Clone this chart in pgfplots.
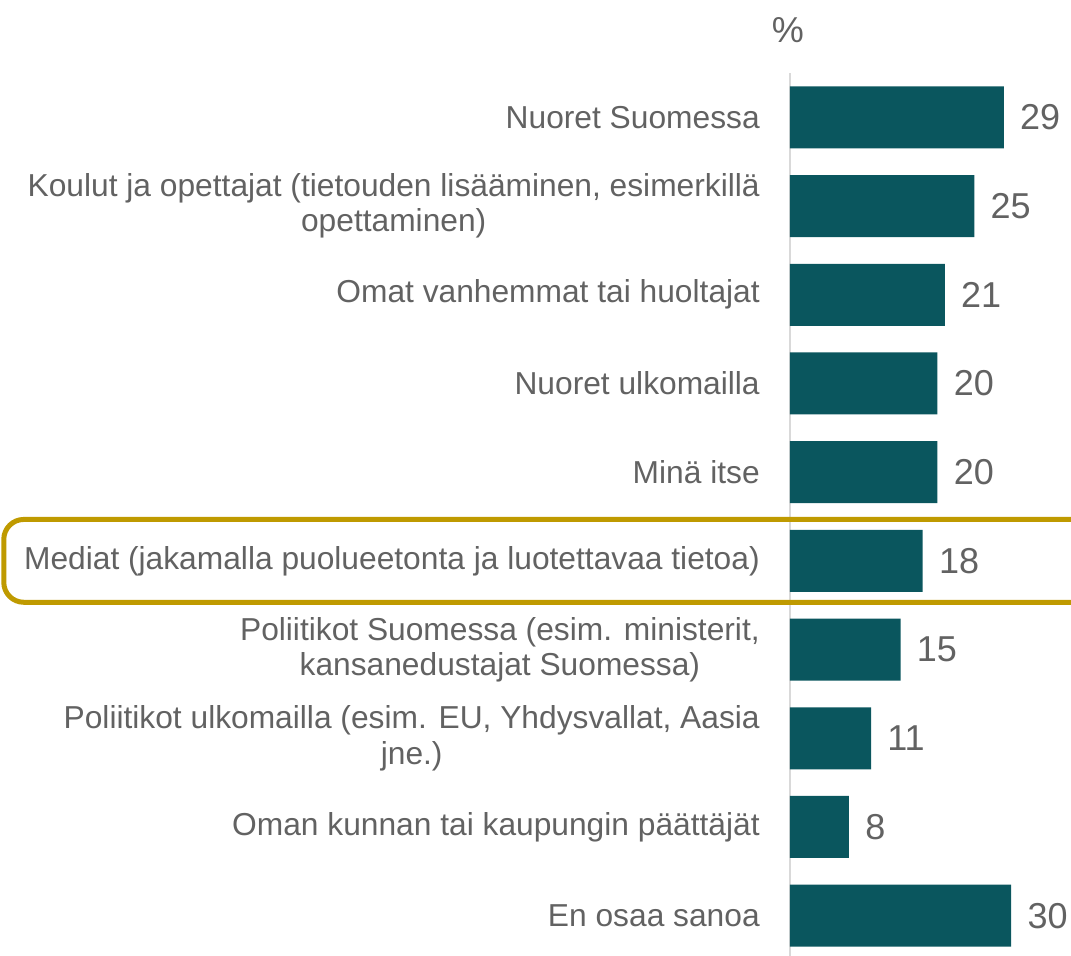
\documentclass[border=0pt]{standalone}
\usepackage{pgfplots}
\pgfplotsset{compat=1.18}
\usepackage{fontspec}
\setmainfont{Liberation Sans}
\definecolor{barc}{HTML}{0A565E}
\definecolor{txt}{HTML}{626262}
\definecolor{gold}{HTML}{BF9A00}
\definecolor{axl}{HTML}{D9D9D9}
\begin{document}
\begin{tikzpicture}
\begin{axis}[
  scale only axis,
  width=210.75pt, height=665.25pt,
  xbar, bar width=46.5pt,
  xmin=0, xmax=38.1,
  ymin=-0.5, ymax=9.5,
  y dir=reverse,
  axis x line=none,
  axis y line*=left,
  y axis line style={axl, line width=1.5pt},
  ytick={0,...,9},
  yticklabels={
    {Nuoret Suomessa},
    {Koulut ja opettajat (tietouden lisääminen, esimerkillä\\opettaminen)},
    {Omat vanhemmat tai huoltajat},
    {Nuoret ulkomailla},
    {Minä itse},
    {Mediat (jakamalla puolueetonta ja luotettavaa tietoa)},
    {Poliitikot Suomessa (esim. ministerit,\\kansanedustajat Suomessa)},
    {Poliitikot ulkomailla (esim. EU, Yhdysvallat, Aasia\\jne.)},
    {Oman kunnan tai kaupungin päättäjät},
    {En osaa sanoa}},
  major tick length=0pt,
  yticklabel style={font=\fontsize{23.8}{26.5}\selectfont, text=txt, align=center, inner sep=0pt, xshift=-22.5pt},
  /pgf/number format/assume math mode=true,
  nodes near coords,
  nodes near coords style={font=\fontsize{27}{30}\selectfont, text=txt, anchor=west, inner sep=0pt, xshift=12pt, /pgf/number format/assume math mode=true},
  clip=false,
]
\addplot[fill=barc, draw=none] coordinates {(29,0) (25,1) (21,2) (20,3) (20,4) (18,5) (15,6) (11,7) (8,8) (30,9)};
\coordinate (tl) at (axis cs:0,-0.5);
\coordinate (br) at (axis cs:38.1,9.5);
\draw[gold, line width=3.75pt, rounded corners=15pt] (axis cs:-106.6,4.533) rectangle (axis cs:41,5.467);
\node[text=txt, font=\fontsize{27}{30}\selectfont] at ([xshift=-1.5pt,yshift=32.25pt]axis cs:0,-0.5) {\%};
\end{axis}
\pgfresetboundingbox
\path[use as bounding box] ([xshift=-592.5pt,yshift=54.75pt]tl) rectangle ([yshift=3.75pt]br);
\end{tikzpicture}
\end{document}
